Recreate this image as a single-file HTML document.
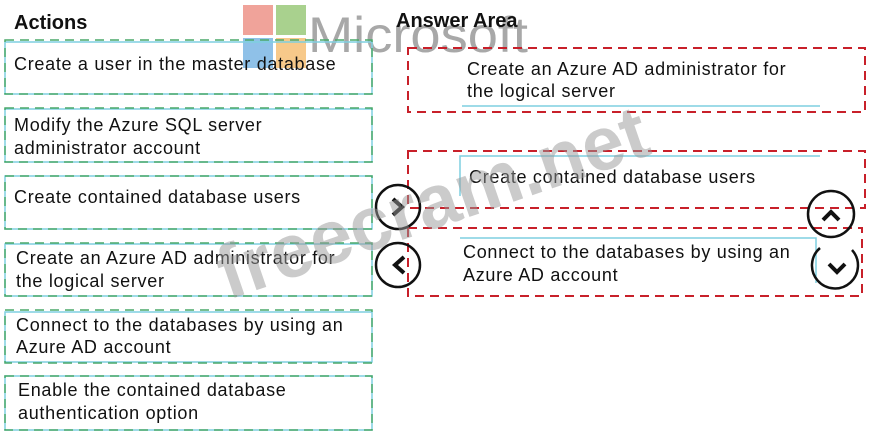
<!DOCTYPE html>
<html><head><meta charset="utf-8"><style>
html,body{margin:0;padding:0;background:#fff;}
svg{display:block;}
text{font-family:"Liberation Sans",Arial,sans-serif;}
</style></head><body>
<svg width="884" height="434" viewBox="0 0 884 434" xmlns="http://www.w3.org/2000/svg">
<rect width="884" height="434" fill="#fff"/>
<rect x="243" y="5" width="30" height="30" fill="#f0a39a"/>
<rect x="276" y="5" width="30" height="30" fill="#a9d18e"/>
<rect x="243" y="38" width="30" height="30" fill="#8fc1e8"/>
<rect x="276" y="38" width="30" height="30" fill="#f7c98a"/>
<text x="308" y="52" font-size="50" fill="#a8a8a8" textLength="220" lengthAdjust="spacingAndGlyphs">Microsoft</text>
<text x="14" y="29" font-size="20" font-weight="bold" fill="#111">Actions</text>
<text x="396" y="27" font-size="20" font-weight="bold" fill="#111">Answer Area</text>
<g fill="none" stroke-width="1.5">
<g stroke="#7fcfe0">
<rect x="5" y="42" width="367" height="52"/>
<rect x="5" y="109" width="367" height="53"/>
<rect x="5" y="176" width="367" height="53"/>
<rect x="5" y="244" width="367" height="52"/>
<rect x="5" y="312" width="367" height="50"/>
<rect x="5" y="376" width="367" height="54"/>
<line x1="462" y1="106" x2="820" y2="106"/>
<polyline points="460,196 460,156 820,156"/>
<polyline points="460,238 816,238 816,283"/>
</g>
<g stroke="#4aa96a" stroke-dasharray="9,6">
<rect x="5" y="40" width="367" height="54"/>
<rect x="5" y="108" width="367" height="54"/>
<rect x="5" y="176" width="367" height="53"/>
<rect x="5" y="243" width="367" height="53"/>
<rect x="5" y="310" width="367" height="53"/>
<rect x="5" y="376" width="367" height="54"/>
</g>
<g stroke="#c8202a" stroke-dasharray="9,6" stroke-width="2">
<rect x="408" y="48" width="457" height="64"/>
<rect x="408" y="151" width="457" height="57"/>
<rect x="408" y="228" width="454" height="68"/>
</g>
</g>
<g font-size="18" fill="#111" letter-spacing="0.7">
<text x="14" y="70">Create a user in the master database</text>
<text x="14" y="131">Modify the Azure SQL server</text>
<text x="14" y="154">administrator account</text>
<text x="14" y="203">Create contained database users</text>
<text x="16" y="264">Create an Azure AD administrator for</text>
<text x="16" y="287">the logical server</text>
<text x="16" y="331">Connect to the databases by using an</text>
<text x="16" y="353">Azure AD account</text>
<text x="18" y="396">Enable the contained database</text>
<text x="18" y="419">authentication option</text>
<text x="467" y="75">Create an Azure AD administrator for</text>
<text x="467" y="97">the logical server</text>
<text x="469" y="183">Create contained database users</text>
<text x="463" y="258">Connect to the databases by using an</text>
<text x="463" y="281">Azure AD account</text>
</g>
<g fill="none" stroke="#111" stroke-width="2.5">
<circle cx="398" cy="207" r="22"/>
<circle cx="398" cy="265" r="22"/>
<circle cx="831" cy="214" r="23"/>
<path d="M820,248 A23,23 0 1 0 852,250"/>
<polyline points="393,199 402,207 393,215" stroke-width="4"/>
<polyline points="404,257 395,265 404,273" stroke-width="4"/>
<polyline points="823,220 831,212 839,220" stroke-width="4"/>
<polyline points="829,264 837,272 845,264" stroke-width="4"/>
</g>
<text x="228" y="300" font-size="76" font-weight="bold" fill="#999" opacity="0.5" transform="rotate(-19 228 300)" textLength="450" lengthAdjust="spacingAndGlyphs">freecram.net</text>
</svg>
</body></html>
